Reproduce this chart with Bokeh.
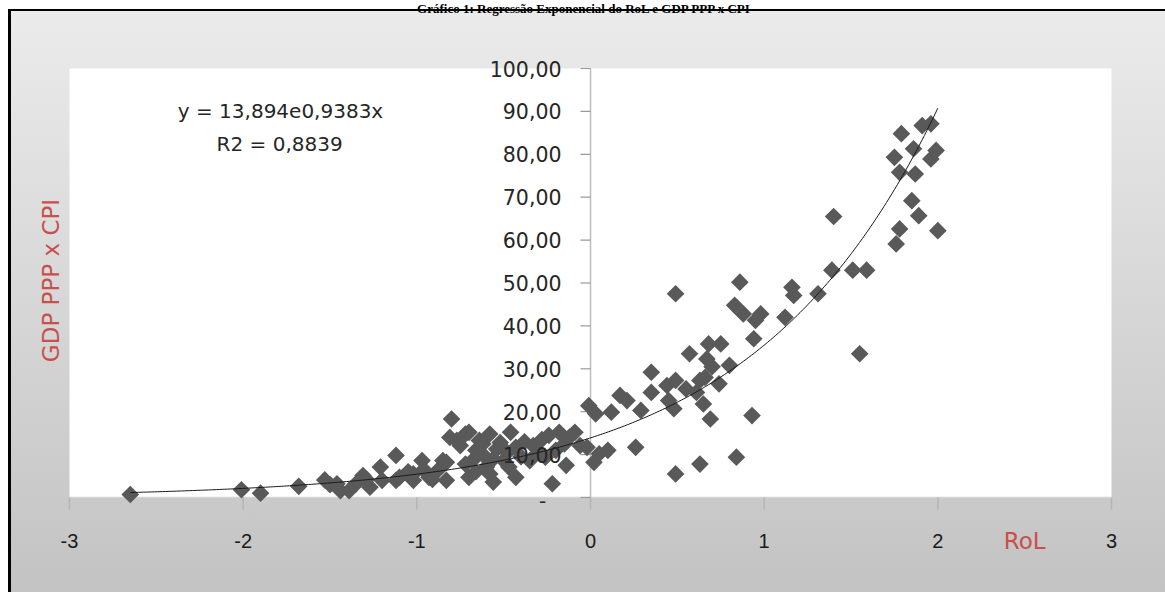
import numpy as np
from bokeh.plotting import figure
from bokeh.models import Range1d, Label, LabelSet, ColumnDataSource
from bokeh.core.properties import value
from bokeh.embed import file_html
from bokeh.resources import INLINE

# ---------------- data ----------------
rol = [-2.65, -2.01, -1.90, -1.68, -1.53, -1.50, -1.46, -1.44, -1.39, -1.35,
       -1.31, -1.29, -1.27, -1.21, -1.20, -1.12, -1.12, -1.10, -1.05, -1.02,
       -1.02, -0.97, -0.96, -0.93, -0.91, -0.88, -0.85, -0.83, -0.83, -0.80,
       -0.81, -0.77, -0.75, -0.72, -0.70, -0.72, -0.70, -0.68, -0.66, -0.66,
       -0.64, -0.62, -0.62, -0.60, -0.58, -0.58, -0.56, -0.56, -0.54, -0.52,
       -0.50, -0.48, -0.47, -0.46, -0.43, -0.43, -0.40, -0.38, -0.35, -0.33,
       -0.30, -0.28, -0.26, -0.24, -0.22, -0.20, -0.18, -0.15, -0.14, -0.12,
       -0.09, -0.06, -0.02, -0.01, 0.03,
       0.02, 0.05, 0.10, 0.12, 0.17, 0.21, 0.26, 0.29, 0.35, 0.35,
       0.44, 0.45, 0.48, 0.49, 0.49, 0.49, 0.55, 0.57, 0.61, 0.63,
       0.63, 0.65, 0.66, 0.67, 0.68, 0.69, 0.70, 0.74, 0.75, 0.80,
       0.84, 0.83, 0.86, 0.88, 0.93, 0.94, 0.95, 0.98, 1.12, 1.16,
       1.17, 1.31, 1.39, 1.40, 1.51, 1.55, 1.59, 1.76, 1.78, 1.75,
       1.78, 1.79, 1.85, 1.86, 1.87, 1.89, 1.91, 1.96, 1.96, 1.99, 2.00]
gdp_cpi = [0.7, 1.8, 1.0, 2.6, 4.1, 3.0, 3.2, 1.6, 1.6, 3.2,
           5.1, 4.2, 2.4, 7.1, 4.0, 9.8, 4.0, 4.7, 6.0, 4.0,
           5.5, 8.6, 6.5, 4.7, 4.2, 6.3, 8.6, 8.2, 4.0, 18.3,
           14.0, 13.3, 12.1, 14.8, 15.2, 7.8, 4.7, 8.6, 11.0, 6.0,
           13.3, 10.0, 12.5, 7.1, 14.8, 5.5, 3.6, 9.0, 11.3, 12.8,
           8.6, 10.5, 7.1, 15.2, 11.7, 4.7, 9.5, 13.0, 8.6, 12.1,
           10.5, 13.5, 9.4, 14.5, 3.2, 11.0, 15.2, 12.5, 7.5, 14.1,
           15.2, 12.1, 11.7, 21.4, 19.5,
           8.2, 10.2, 11.0, 19.9, 23.8, 22.6, 11.7, 20.3, 29.2, 24.5,
           26.1, 22.6, 20.7, 27.3, 47.5, 5.5, 25.3, 33.5, 24.5, 27.3,
           7.8, 21.8, 28.0, 32.3, 35.8, 18.3, 30.5, 26.5, 35.8, 30.8,
           9.4, 44.8, 50.2, 42.8, 19.1, 37.0, 41.3, 42.8, 42.0, 49.0,
           47.1, 47.5, 53.0, 65.5, 53.0, 33.5, 53.0, 59.1, 62.6, 79.3,
           75.8, 84.8, 69.2, 81.3, 75.4, 65.7, 86.7, 87.1, 78.9, 80.9, 62.2]

# exponential trend shown on the chart: y = 13,894 e^(0,9383 x)
trend_a = 13.894
trend_b = 0.9383
trend_x_min = -2.65
trend_x_max = 2.00

x_ticks = [-3, -2, -1, 0, 1, 2, 3]
x_labels = ["-3", "-2", "-1", "0", "1", "2", "3"]
y_ticks = [0, 10, 20, 30, 40, 50, 60, 70, 80, 90, 100]
y_labels = ["-", "10,00", "20,00", "30,00", "40,00", "50,00", "60,00",
            "70,00", "80,00", "90,00", "100,00"]

title_text = "Gráfico 1: Regressão Exponencial do RoL e GDP PPP x CPI"
eq_text = "y = 13,894e0,9383x"
r2_text = "R2 = 0,8839"
x_title = "RoL"
y_title = "GDP PPP x CPI"

# ---------------- layout ----------------
W, H = 1165, 592
PL, PR, PT, PB = 69, 54, 68, 95          # plot-area margins inside the canvas (px)
x0, x1 = x_ticks[0], x_ticks[-1]
y0, y1 = y_ticks[0], y_ticks[-1]
kx = (W - PL - PR) / (x1 - x0)
ky = (H - PT - PB) / (y1 - y0)

p = figure(width=W, height=H, output_backend="svg", toolbar_location=None,
           x_range=Range1d(x0 - PL / kx, x1 + PR / kx),
           y_range=Range1d(y0 - PB / ky, y1 + PT / ky),
           x_axis_location=None, y_axis_location=None,
           min_border=0)
p.styles = {
    "background": ("linear-gradient(#000, #000) 8px 9px / 3px calc(100% - 9px) no-repeat, "
                   "linear-gradient(#000, #000) 8px 9px / calc(100% - 8px) 2px no-repeat, "
                   "linear-gradient(to bottom, #ebebeb, #c3c3c3) 11px 11px / calc(100% - 11px) calc(100% - 11px) no-repeat, "
                   "#ffffff"),
}
p.border_fill_alpha = 0
p.background_fill_alpha = 0
p.outline_line_color = None
p.grid.visible = False

# white plot area
p.quad(left=[x0], right=[x1], bottom=[y0], top=[y1], fill_color="white", line_color=None)

# x axis (bottom of the plot area) with ticks going down
p.segment(x0=[x0], y0=[y0], x1=[x1], y1=[y0], line_color="#d4d4d4", line_width=1.5)
p.ray(x=x_ticks, y=[y0] * len(x_ticks), length=12, length_units="screen",
      angle=-np.pi / 2, line_color="#b4b4b4", line_width=1.5)

# y axis crossing at x = 0
p.segment(x0=[0], y0=[y0], x1=[0], y1=[y1], line_color="#bdbdbd", line_width=1.5)
p.ray(x=[0] * len(y_ticks), y=y_ticks, length=10, length_units="screen",
      angle=np.pi, line_color="#9a9a9a", line_width=1.2)

# data points
p.scatter(rol, gdp_cpi, marker="square", angle=np.pi / 4, size=12.5,
          fill_color="#595959", line_color=None)

# trend line
tx = np.linspace(trend_x_min, trend_x_max, 300)
ty = trend_a * np.exp(trend_b * tx)
p.line(tx, ty, line_color="#1a1a1a", line_width=1.0)

# x tick labels
xl_src = ColumnDataSource(dict(x=x_ticks, y=[y0] * len(x_ticks), t=x_labels))
p.add_layout(LabelSet(x="x", y="y", text="t", source=xl_src, y_offset=-43,
                      text_align="center", text_baseline="middle",
                      text_font=value("Liberation Sans"), text_font_size="20px",
                      text_color="#1a1a1a"))

# y tick labels
yl_src = ColumnDataSource(dict(x=[0] * (len(y_ticks) - 1), y=y_ticks[1:], t=y_labels[1:]))
p.add_layout(LabelSet(x="x", y="y", text="t", source=yl_src, x_offset=-29,
                      text_align="right", text_baseline="middle",
                      text_font=value("DejaVu Sans"), text_font_size="20.5px",
                      text_color="#262626"))
zero_src = ColumnDataSource(dict(x=[0], y=y_ticks[:1], t=y_labels[:1]))
p.add_layout(LabelSet(x="x", y="y", text="t", source=zero_src, x_offset=-48, y_offset=-3,
                      text_align="center", text_baseline="middle",
                      text_font=value("DejaVu Sans"), text_font_size="20px",
                      text_color="#262626"))

# equation text
p.add_layout(Label(x=-1.785, y=90.2, text=eq_text, text_align="center",
                   text_baseline="middle", text_font="DejaVu Sans",
                   text_font_size="20px", text_color="#262626"))
p.add_layout(Label(x=-1.79, y=82.5, text=r2_text, text_align="center",
                   text_baseline="middle", text_font="DejaVu Sans",
                   text_font_size="20px", text_color="#262626"))

# axis titles
p.add_layout(Label(x=2.5, y=y0, y_offset=-43, text=x_title,
                   text_align="center", text_baseline="middle",
                   text_font="DejaVu Sans", text_font_size="23px",
                   text_color="#c8504c"))
p.add_layout(Label(x=50, y=H - 280, x_units="screen", y_units="screen", text=y_title,
                   angle=np.pi / 2, text_align="center", text_baseline="middle",
                   text_font="DejaVu Sans", text_font_size="23px",
                   text_color="#c8504c"))

# chart title (above the frame line)
p.add_layout(Label(x=584, y=H, x_units="screen", y_units="screen", text=title_text,
                   text_align="center", text_baseline="top",
                   text_font="Liberation Serif", text_font_style="bold",
                   text_font_size="13px", text_color="#000000"))

open("out.html", "w").write(file_html(p, INLINE))
